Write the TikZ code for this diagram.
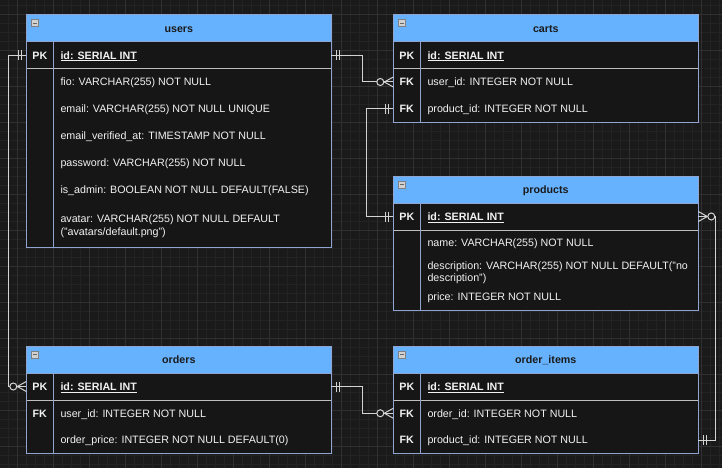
\documentclass[tikz,border=0pt]{standalone}
\usepackage{fontspec}
\setmainfont{Liberation Sans}
\usetikzlibrary{calc}
\definecolor{bgc}{HTML}{1A1A1A}
\definecolor{gridminor}{HTML}{232323}
\definecolor{gridmajor}{HTML}{303030}
\definecolor{hdrfill}{HTML}{66B2FF}
\definecolor{bodyfill}{HTML}{161616}
\definecolor{border}{HTML}{8FA5CF}
\definecolor{pksep}{HTML}{BEBEBE}
\definecolor{conncol}{HTML}{D4D4D4}
\definecolor{hdrtext}{HTML}{1A1A1A}
\definecolor{bodytext}{HTML}{F2F2F2}
\tikzset{
  tbl/.style={draw=border, line width=1pt, fill=bodyfill, anchor=north west, minimum width=305pt, inner sep=0pt, outer sep=0pt},
  hdr/.style={draw=border, line width=1pt, fill=hdrfill, anchor=north west, minimum width=305pt, minimum height=27pt, inner sep=0pt, outer sep=0pt, text=hdrtext, text height=7.66pt, text depth=0pt, font=\fontsize{10.7}{12}\selectfont\bfseries},
  rowbox/.style={anchor=north west, minimum width=305pt, inner sep=0pt, outer sep=0pt},
  keytxt/.style={text=bodytext, font=\fontsize{10.7}{12}\selectfont\bfseries, inner sep=0pt, text height=7.66pt, text depth=0pt},
  fldtxt/.style={text=bodytext, font=\fontsize{10.7}{12.3}\selectfont, anchor=west, inner sep=0pt, text height=7.66pt, text depth=0pt},
  fldtwo/.style={text=bodytext, font=\fontsize{10.7}{12.3}\selectfont, anchor=base west, align=left, inner sep=0pt},
  pkline/.style={draw=pksep, line width=1pt},
  coldiv/.style={draw=border, line width=1pt},
  conn/.style={draw=conncol, line width=1pt},
  icon/.style={draw=gray, fill=black!18, minimum size=7pt, inner sep=0pt, line width=0.6pt},
}
\newcommand\ERrow[6]{% prefix, row, y top, height, key, text
  \node[rowbox, minimum height=#4] (#1-#2) at (\tx,#3) {};
  \node[keytxt] (#1-#2-k) at ([xshift=13.5pt]#1-#2.west) {#5};
  \node[fldtxt] (#1-#2-t) at ([xshift=34pt]#1-#2.west) {#6};
}
\newcommand\ERrowtwo[6]{% two-line text (base = last line)
  \node[rowbox, minimum height=#4] (#1-#2) at (\tx,#3) {};
  \node[keytxt] (#1-#2-k) at ([xshift=13.5pt]#1-#2.west) {#5};
  \node[fldtwo] (#1-#2-t) at ([xshift=34pt,yshift=-10pt]#1-#2.west) {#6};
}
\newcommand\ERicon[1]{%
  \node[icon, anchor=north west] (#1-ic) at ([xshift=5pt,yshift=-4.5pt]#1.north west) {};
  \draw[black!60, line width=1pt] ([xshift=-2pt]#1-ic.center) -- ([xshift=2pt]#1-ic.center);
}
% mandatory-one ticks; #1 point, #2 direction (+1 right, -1 left)
\newcommand\ERone[2]{%
  \draw[conn] ($(#1)+(#2*5,-5)$) -- ($(#1)+(#2*5,5)$);
  \draw[conn] ($(#1)+(#2*8,-5)$) -- ($(#1)+(#2*8,5)$);
}
% zero-or-many; #1 point, #2 direction (+1 right, -1 left)
\newcommand\ERmany[2]{%
  \draw[conn] ($(#1)+(#2*9,0)$) -- ($(#1)+(0,-5)$);
  \draw[conn] ($(#1)+(#2*9,0)$) -- (#1);
  \draw[conn] ($(#1)+(#2*9,0)$) -- ($(#1)+(0,5)$);
  \draw[conn, fill=bgc] ($(#1)+(#2*13,0)$) circle[radius=3.5];
}
\begin{document}
\begin{tikzpicture}[x=1pt, y=-1pt]
\useasboundingbox (0,0) rectangle (722,468);
\fill[bgc] (0,0) rectangle (722,468);
% grid
\foreach \gx in {8,17,...,720} \draw[gridminor, line width=0.8pt] (\gx,0) -- (\gx,468);
\foreach \gy in {5,14,...,467} \draw[gridminor, line width=0.8pt] (0,\gy) -- (722,\gy);
\foreach \gx in {17,53,...,720} \draw[gridmajor, line width=0.8pt] (\gx,0) -- (\gx,468);
\foreach \gy in {14,50,...,467} \draw[gridmajor, line width=0.8pt] (0,\gy) -- (722,\gy);

% ---------- users ----------
\def\tx{26.3}
\node[tbl, minimum height=232pt] (users-box) at (\tx,15) {};
\node[hdr] (users) at (\tx,15) {users};
\ERicon{users}
\ERrow{users}{pk}{42}{26.5pt}{PK}{\textbf{\underline{id: SERIAL INT}}}
\ERrow{users}{fio}{68.5}{27pt}{}{fio: VARCHAR(255) NOT NULL}
\ERrow{users}{email}{95.5}{27pt}{}{email: VARCHAR(255) NOT NULL UNIQUE}
\ERrow{users}{ev}{122.5}{27pt}{}{email\_verified\_at: TIMESTAMP NOT NULL}
\ERrow{users}{pw}{149.5}{27pt}{}{password: VARCHAR(255) NOT NULL}
\ERrow{users}{adm}{176.5}{27pt}{}{is\_admin: BOOLEAN NOT NULL DEFAULT(FALSE)}
\ERrowtwo{users}{av}{203.5}{43.5pt}{}{avatar: VARCHAR(255) NOT NULL DEFAULT\\("avatars/default.png")}
\draw[pkline] (users-pk.south west) -- (users-pk.south east);
\draw[coldiv] ([xshift=27pt]users-pk.north west) -- ([xshift=27pt]users-box.south west);
\draw[draw=border, line width=1pt] (users-box.north west) rectangle (users-box.south east);

% ---------- carts ----------
\def\tx{393.3}
\node[tbl, minimum height=107pt] (carts-box) at (\tx,15) {};
\node[hdr] (carts) at (\tx,15) {carts};
\ERicon{carts}
\ERrow{carts}{pk}{42}{26.5pt}{PK}{\textbf{\underline{id: SERIAL INT}}}
\ERrow{carts}{user}{68.5}{27pt}{FK}{user\_id: INTEGER NOT NULL}
\ERrow{carts}{prod}{95.5}{26.5pt}{FK}{product\_id: INTEGER NOT NULL}
\draw[pkline] (carts-pk.south west) -- (carts-pk.south east);
\draw[coldiv] ([xshift=27pt]carts-pk.north west) -- ([xshift=27pt]carts-box.south west);
\draw[draw=border, line width=1pt] (carts-box.north west) rectangle (carts-box.south east);

% ---------- products ----------
\def\tx{393.3}
\node[tbl, minimum height=134pt] (products-box) at (\tx,176) {};
\node[hdr] (products) at (\tx,176) {products};
\ERicon{products}
\ERrow{products}{pk}{203}{27pt}{PK}{\textbf{\underline{id: SERIAL INT}}}
\ERrow{products}{name}{230}{26pt}{}{name: VARCHAR(255) NOT NULL}
\ERrowtwo{products}{desc}{256}{31pt}{}{description: VARCHAR(255) NOT NULL DEFAULT("no\\description")}
\ERrow{products}{price}{287}{20pt}{}{price: INTEGER NOT NULL}
\draw[pkline] (products-pk.south west) -- (products-pk.south east);
\draw[coldiv] ([xshift=27pt]products-pk.north west) -- ([xshift=27pt]products-box.south west);
\draw[draw=border, line width=1pt] (products-box.north west) rectangle (products-box.south east);

% ---------- orders ----------
\def\tx{26.3}
\node[tbl, minimum height=107.5pt] (orders-box) at (\tx,346) {};
\node[hdr] (orders) at (\tx,346) {orders};
\ERicon{orders}
\ERrow{orders}{pk}{373}{27pt}{PK}{\textbf{\underline{id: SERIAL INT}}}
\ERrow{orders}{user}{400}{26.5pt}{FK}{user\_id: INTEGER NOT NULL}
\ERrow{orders}{price}{426.5}{27pt}{}{order\_price: INTEGER NOT NULL DEFAULT(0)}
\draw[pkline] (orders-pk.south west) -- (orders-pk.south east);
\draw[coldiv] ([xshift=27pt]orders-pk.north west) -- ([xshift=27pt]orders-box.south west);
\draw[draw=border, line width=1pt] (orders-box.north west) rectangle (orders-box.south east);

% ---------- order_items ----------
\def\tx{393.3}
\node[tbl, minimum height=107.5pt] (oi-box) at (\tx,346) {};
\node[hdr] (oi) at (\tx,346) {order\_items};
\ERicon{oi}
\ERrow{oi}{pk}{373}{27pt}{PK}{\textbf{\underline{id: SERIAL INT}}}
\ERrow{oi}{order}{400}{26.5pt}{FK}{order\_id: INTEGER NOT NULL}
\ERrow{oi}{prod}{426.5}{27pt}{FK}{product\_id: INTEGER NOT NULL}
\draw[pkline] (oi-pk.south west) -- (oi-pk.south east);
\draw[coldiv] ([xshift=27pt]oi-pk.north west) -- ([xshift=27pt]oi-box.south west);
\draw[draw=border, line width=1pt] (oi-box.north west) rectangle (oi-box.south east);

% ---------- connectors ----------
\draw[conn] (users-pk.west) -- ++(-18,0) |- (orders-pk.west);
\ERone{users-pk.west}{-1}
\ERmany{orders-pk.west}{-1}

\draw[conn] (users-pk.east) -- ++(31.5,0) |- (carts-user.west);
\ERone{users-pk.east}{1}
\ERmany{carts-user.west}{-1}

\draw[conn] (carts-prod.west) -- ++(-27,0) |- (products-pk.west);
\ERone{carts-prod.west}{-1}
\ERone{products-pk.west}{-1}

\draw[conn] (orders-pk.east) -- ++(31.5,0) |- (oi-order.west);
\ERone{orders-pk.east}{1}
\ERmany{oi-order.west}{-1}

\draw[conn] (products-pk.east) -- ++(17,0) |- (oi-prod.east);
\ERmany{products-pk.east}{1}
\ERone{oi-prod.east}{1}
\end{tikzpicture}
\end{document}
